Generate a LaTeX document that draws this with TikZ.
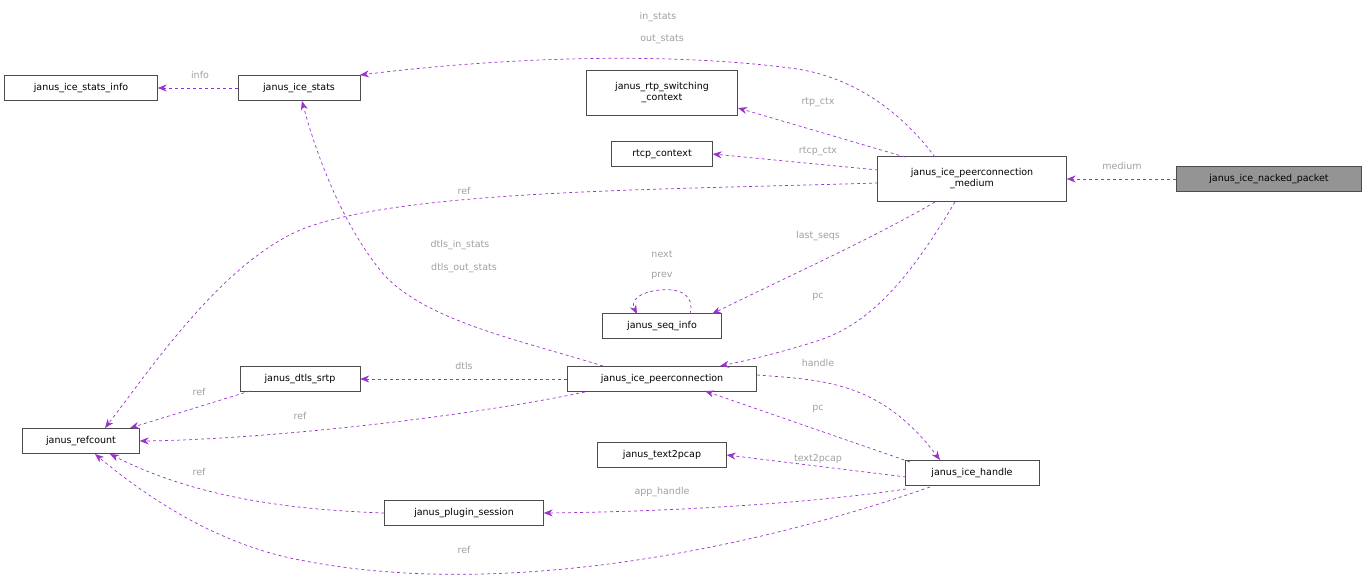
\documentclass[tikz,border=0pt]{standalone}
\usepackage{fontspec}
\setmainfont{DejaVu Sans}
\usetikzlibrary{arrows.meta}
\begin{document}
\begin{tikzpicture}[x=1pt,y=-1pt,
  box/.style={draw=black!70,fill=white,inner sep=0pt,minimum height=25pt,font=\fontsize{9.5}{11}\selectfont,align=center},
  e/.style={draw={rgb,255:red,154;green,50;blue,205},dashed,line width=0.7pt,-{Stealth[length=9pt,width=7pt]}},
  lb/.style={font=\fontsize{9.5}{11}\selectfont,text={rgb,255:red,160;green,160;blue,160},inner sep=0pt}]
\useasboundingbox (0,0) rectangle (1369,578);
\node[box,minimum width=153pt] (info) at (81,88) {janus\_ice\_stats\_info};
\node[box,minimum width=122pt] (stats) at (299,88) {janus\_ice\_stats};
\node[box,minimum width=151pt,minimum height=45pt] (rtp) at (662,93) {janus\_rtp\_switching\\\_context};
\node[box,minimum width=101pt] (rtcp) at (662,154) {rtcp\_context};
\node[box,minimum width=189pt,minimum height=45pt] (med) at (972,179) {janus\_ice\_peerconnection\\\_medium};
\node[box,minimum width=185pt,fill=black!42] (nack) at (1269,179) {janus\_ice\_nacked\_packet};
\node[box,minimum width=119pt] (seq) at (662,326) {janus\_seq\_info};
\node[box,minimum width=120pt] (dtls) at (300,379) {janus\_dtls\_srtp};
\node[box,minimum width=189pt] (pc) at (662,379) {janus\_ice\_peerconnection};
\node[box,minimum width=117pt] (ref) at (81,441) {janus\_refcount};
\node[box,minimum width=129pt] (t2p) at (662,455) {janus\_text2pcap};
\node[box,minimum width=134pt] (h) at (972,473) {janus\_ice\_handle};
\node[box,minimum width=159pt] (ps) at (464,513) {janus\_plugin\_session};

\draw[e] (stats.west) -- (info.east);
\node[lb] at (200,75) {info};
\draw[e] (935,157) .. controls (900,110) and (850,75) .. (790,68) .. controls (650,50) and (480,60) .. (360,75);
\node[lb] at (658,17) {in\_stats};
\node[lb] at (662,39) {out\_stats};
\draw[e] (905,157) -- (738,108);
\node[lb] at (818,102) {rtp\_ctx};
\draw[e] (878,170) -- (rtcp.east);
\node[lb] at (818,151) {rtcp\_ctx};
\draw[e] (878,183) .. controls (650,190) and (400,190) .. (300,230) .. controls (220,265) and (150,370) .. (105,428);
\node[lb] at (464,191) {ref};
\draw[e] (935,202) .. controls (870,240) and (780,280) .. (712,314);
\node[lb] at (818,236) {last\_seqs};
\draw[e] (955,202) .. controls (920,260) and (880,320) .. (820,340) .. controls (790,350) and (750,360) .. (720,366);
\node[lb] at (818,297) {pc};
\draw[e] (nack.west) -- (med.east);
\node[lb] at (1122,166) {medium};
\draw[e] (690,314) .. controls (695,295) and (680,288) .. (660,290) .. controls (640,292) and (630,300) .. (637,314);
\node[lb] at (662,254) {next};
\node[lb] at (662,276) {prev};
\draw[e] (603,366) .. controls (520,340) and (420,320) .. (380,270) .. controls (340,220) and (315,150) .. (302,101);
\node[lb] at (460,245) {dtls\_in\_stats};
\node[lb] at (464,268) {dtls\_out\_stats};
\draw[e] (pc.west) -- (dtls.east);
\node[lb] at (464,366) {dtls};
\draw[e] (585,392) .. controls (450,420) and (250,440) .. (ref.east);
\node[lb] at (300,416) {ref};
\draw[e] (250,391) -- (130,428);
\node[lb] at (199,392) {ref};
\draw[e] (757,375) .. controls (820,380) and (880,380) .. (940,460);
\node[lb] at (818,363) {handle};
\draw[e] (910,462) -- (705,391);
\node[lb] at (818,409) {pc};
\draw[e] (906,477) -- (t2p.east);
\node[lb] at (818,459) {text2pcap};
\draw[e] (906,489) .. controls (800,505) and (650,512) .. (ps.east);
\node[lb] at (662,492) {app\_handle};
\draw[e] (ps.west) .. controls (300,510) and (200,500) .. (110,454);
\node[lb] at (199,472) {ref};
\draw[e] (930,487) .. controls (750,550) and (500,600) .. (300,560) .. controls (220,545) and (150,500) .. (95,454);
\node[lb] at (464,550) {ref};
\end{tikzpicture}
\end{document}
